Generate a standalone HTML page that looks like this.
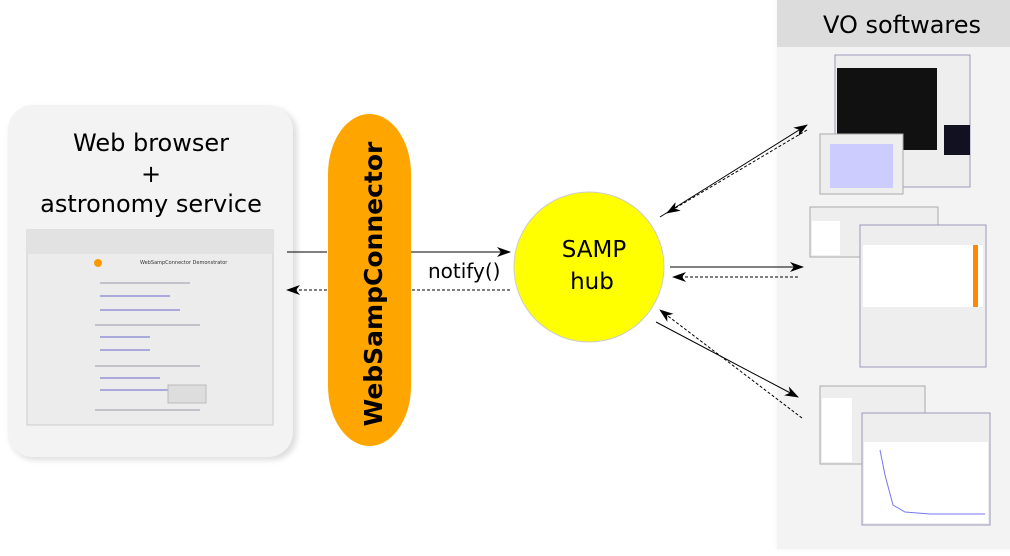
<!DOCTYPE html>
<html><head><style>
body{margin:0;width:1010px;height:552px;background:#fff;overflow:hidden;font-family:"DejaVu Sans","Liberation Sans",sans-serif}
</style></head><body>
<svg width="1010" height="552" xmlns="http://www.w3.org/2000/svg">
<defs>
<marker id="a" markerWidth="14" markerHeight="10" refX="13" refY="5" orient="auto" markerUnits="userSpaceOnUse"><path d="M0,0 L14,5 L0,10 L4,5Z" fill="#000"/></marker>
<filter id="s" x="-10%" y="-10%" width="120%" height="120%"><feGaussianBlur stdDeviation="3"/></filter>
</defs>
<rect x="10" y="108" width="287" height="352" rx="25" fill="#ddd" filter="url(#s)"/>
<rect x="8" y="105" width="285" height="352" rx="25" fill="#f3f3f3"/>
<text x="151" y="151" font-size="24" text-anchor="middle" fill="#000">Web browser</text>
<text x="151" y="182" font-size="24" text-anchor="middle" fill="#000">+</text>
<text x="151" y="212" font-size="24" text-anchor="middle" fill="#000">astronomy service</text>
<rect x="27" y="230" width="246" height="195" fill="#ececec" stroke="#ccc"/>
<rect x="27" y="230" width="246" height="24" fill="#e2e2e2"/>
<g stroke="#99a" stroke-width="1">
<line x1="100" y1="283" x2="190" y2="283"/><line x1="100" y1="296" x2="170" y2="296" stroke="#66c"/><line x1="100" y1="310" x2="180" y2="310" stroke="#66c"/>
<line x1="95" y1="325" x2="200" y2="325"/><line x1="100" y1="337" x2="150" y2="337" stroke="#66c"/><line x1="100" y1="350" x2="150" y2="350" stroke="#66c"/>
<line x1="95" y1="366" x2="200" y2="366"/><line x1="100" y1="378" x2="160" y2="378" stroke="#66c"/><line x1="100" y1="390" x2="170" y2="390" stroke="#66c"/>
<line x1="95" y1="410" x2="200" y2="410"/></g>
<text x="140" y="264" font-size="5" fill="#333">WebSampConnector Demonstrator</text>
<rect x="168" y="385" width="38" height="18" fill="#ddd" stroke="#bbb"/>
<circle cx="98" cy="263" r="4" fill="#f90"/>
<rect x="328" y="114" width="83" height="332" rx="41.5" ry="60" fill="#ffa500"/>
<text transform="translate(382,284) rotate(-90)" font-size="25" font-weight="bold" text-anchor="middle" fill="#000">WebSampConnector</text>
<line x1="287" y1="252" x2="327" y2="252" stroke="#000"/>
<line x1="411" y1="252" x2="510" y2="252" stroke="#000" marker-end="url(#a)"/>
<line x1="510" y1="290" x2="411" y2="290" stroke="#000" stroke-dasharray="3,2"/>
<line x1="327" y1="290" x2="287" y2="290" stroke="#000" stroke-dasharray="3,2" marker-end="url(#a)"/>
<text x="428" y="278" font-size="20" fill="#000">notify()</text>
<circle cx="589" cy="267" r="75" fill="#ffff00" stroke="#ccc"/>
<text x="594" y="257" font-size="23" text-anchor="middle">SAMP</text>
<text x="592" y="289" font-size="23" text-anchor="middle">hub</text>
<rect x="777" y="0" width="233" height="549" fill="#f3f3f3" filter="url(#s)"/>
<rect x="777" y="0" width="233" height="549" fill="#f3f3f3"/>
<rect x="777" y="0" width="233" height="47" fill="#dcdcdc"/>
<text x="902" y="33" font-size="24" text-anchor="middle">VO softwares</text>
<line x1="660" y1="217" x2="807" y2="125" stroke="#000" marker-end="url(#a)"/>
<line x1="807" y1="130" x2="667" y2="213" stroke="#000" stroke-dasharray="3,2" marker-end="url(#a)"/>
<line x1="670" y1="267" x2="803" y2="267" stroke="#000" marker-end="url(#a)"/>
<line x1="798" y1="277" x2="673" y2="277" stroke="#000" stroke-dasharray="3,2" marker-end="url(#a)"/>
<line x1="802" y1="418" x2="660" y2="310" stroke="#000" stroke-dasharray="3,2" marker-end="url(#a)"/>
<line x1="656" y1="322" x2="798" y2="397" stroke="#000" marker-end="url(#a)"/>
<rect x="835" y="55" width="135" height="132" fill="#eee" stroke="#99b"/>
<rect x="837" y="68" width="100" height="82" fill="#111"/>
<rect x="944" y="125" width="26" height="30" fill="#112"/>
<rect x="820" y="134" width="83" height="60" fill="#eee" stroke="#aaa"/>
<rect x="830" y="144" width="63" height="44" fill="#ccf"/>
<rect x="810" y="207" width="128" height="50" fill="#eee" stroke="#aaa"/>
<rect x="812" y="221" width="28" height="34" fill="#fff"/>
<rect x="860" y="225" width="126" height="142" fill="#eee" stroke="#99b"/>
<rect x="863" y="245" width="120" height="62" fill="#fff"/>
<rect x="973" y="245" width="5" height="62" fill="#f80"/>
<rect x="820" y="386" width="105" height="78" fill="#eee" stroke="#aaa"/>
<rect x="822" y="398" width="30" height="64" fill="#fff"/>
<rect x="862" y="413" width="128" height="112" fill="#eee" stroke="#99b"/>
<rect x="864" y="442" width="124" height="81" fill="#fff"/>
<polyline points="880,450 885,475 893,505 905,512 930,514 985,514" fill="none" stroke="#77e" stroke-width="1"/>
</svg>
</body></html>
